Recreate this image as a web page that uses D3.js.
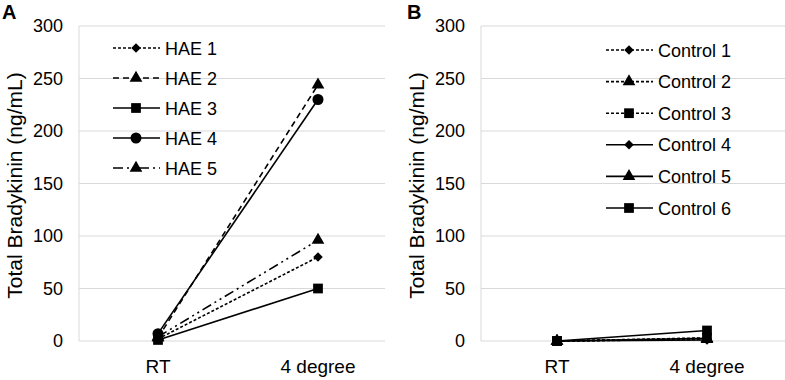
<!DOCTYPE html>
<html>
<head>
<meta charset="utf-8">
<script src="https://cdn.jsdelivr.net/npm/d3@7"></script>
<style>
  body { margin: 0; background: #fff; }
  text { font-family: "Liberation Sans", Arial, sans-serif; fill: #000; }
</style>
</head>
<body>
<div id="chart"></div>
<script>
const categories = ["RT", "4 degree"];
const yTicks = [0, 50, 100, 150, 200, 250, 300];

// panel A
const haeNames = ["HAE 1", "HAE 2", "HAE 3", "HAE 4", "HAE 5"];
const haeValues = [
  [2, 80],
  [3, 244],
  [1, 50],
  [7, 230],
  [4, 96]
];
const haeMarkers = ["diamond", "triangle", "square", "circle", "triangle"];
const haeDash = ["3,2", "6,4", null, null, "10,4,2,4,2,4"];

// panel B
const ctrlNames = ["Control 1", "Control 2", "Control 3", "Control 4", "Control 5", "Control 6"];
const ctrlValues = [
  [0, 2],
  [0, 1.5],
  [0, 3],
  [0, 1],
  [0, 2.5],
  [0, 10]
];
const ctrlMarkers = ["diamond", "triangle", "square", "diamond", "triangle", "square"];
const ctrlDash = ["3,2", "3,2", "3,2", null, null, null];

const width = 785, height = 380;
const svg = d3.select("#chart").append("svg")
  .attr("width", width)
  .attr("height", height);

const y = d3.scaleLinear().domain([0, 300]).range([341, 26]);

// diamond = square turned 45deg (wider than d3's own diamond)
const symbolType = {
  diamond: d3.symbolSquare,
  triangle: d3.symbolTriangle,
  square: d3.symbolSquare,
  circle: d3.symbolCircle
};
const symbolSize = { diamond: 45, triangle: 70, square: 95, circle: 95 };

function drawMarker(g, type, cx, cy) {
  g.append("path")
    .attr("d", d3.symbol().type(symbolType[type]).size(symbolSize[type])())
    .attr("transform", `translate(${cx},${cy})` + (type === "diamond" ? " rotate(45)" : ""))
    .attr("fill", "#000");
}

function drawPanel(opt) {
  const g = svg.append("g");
  const x = d3.scalePoint().domain(categories).range([opt.left + opt.first, opt.left + opt.first + opt.step]);

  // gridlines
  g.selectAll("line.grid")
    .data(yTicks)
    .enter().append("line")
    .attr("x1", opt.left).attr("x2", opt.right)
    .attr("y1", d => y(d)).attr("y2", d => y(d))
    .attr("stroke", "#d9d9d9").attr("stroke-width", 1);

  // left axis line
  g.append("line")
    .attr("x1", opt.left).attr("x2", opt.left)
    .attr("y1", y(300)).attr("y2", y(0))
    .attr("stroke", "#d9d9d9").attr("stroke-width", 1);

  // y tick labels
  g.selectAll("text.ytick")
    .data(yTicks)
    .enter().append("text")
    .attr("x", opt.left - 16)
    .attr("y", d => y(d) + 6)
    .attr("text-anchor", "end")
    .attr("font-size", 18)
    .text(d => d);

  // x labels
  g.selectAll("text.xtick")
    .data(categories)
    .enter().append("text")
    .attr("x", d => x(d))
    .attr("y", 373)
    .attr("text-anchor", "middle")
    .attr("font-size", 19)
    .text(d => d);

  // y title
  g.append("text")
    .attr("transform", `translate(${opt.left - 57},${(y(0) + y(300)) / 2 + 2}) rotate(-90)`)
    .attr("text-anchor", "middle")
    .attr("font-size", 21)
    .text("Total Bradykinin (ng/mL)");

  // panel letter
  g.append("text")
    .attr("x", opt.letterX).attr("y", 19)
    .attr("font-size", 20)
    .attr("font-weight", "bold")
    .text(opt.letter);

  const line = d3.line()
    .x((d, i) => x(categories[i]))
    .y(d => y(d));

  opt.values.forEach((vals, i) => {
    g.append("path")
      .attr("d", line(vals))
      .attr("fill", "none")
      .attr("stroke", "#000")
      .attr("stroke-width", 1.6)
      .attr("stroke-dasharray", opt.dash[i]);
    vals.forEach((v, j) => drawMarker(g, opt.markers[i], x(categories[j]), y(v)));
  });

  // legend
  opt.names.forEach((name, i) => {
    const ly = opt.legendY + i * opt.legendStep;
    g.append("line")
      .attr("x1", opt.legendX).attr("x2", opt.legendX + 47)
      .attr("y1", ly).attr("y2", ly)
      .attr("stroke", "#000")
      .attr("stroke-width", 1.6)
      .attr("stroke-dasharray", opt.dash[i]);
    drawMarker(g, opt.markers[i], opt.legendX + 23, ly);
    g.append("text")
      .attr("x", opt.legendX + 52)
      .attr("y", ly + 6.5)
      .attr("font-size", 18)
      .text(name);
  });
}

drawPanel({
  letter: "A", letterX: 2,
  left: 79, right: 385, first: 79, step: 160,
  names: haeNames, values: haeValues, markers: haeMarkers, dash: haeDash,
  legendX: 113, legendY: 48, legendStep: 30
});

drawPanel({
  letter: "B", letterX: 407,
  left: 481, right: 785, first: 76, step: 150,
  names: ctrlNames, values: ctrlValues, markers: ctrlMarkers, dash: ctrlDash,
  legendX: 606, legendY: 50, legendStep: 31.6
});
</script>
</body>
</html>
